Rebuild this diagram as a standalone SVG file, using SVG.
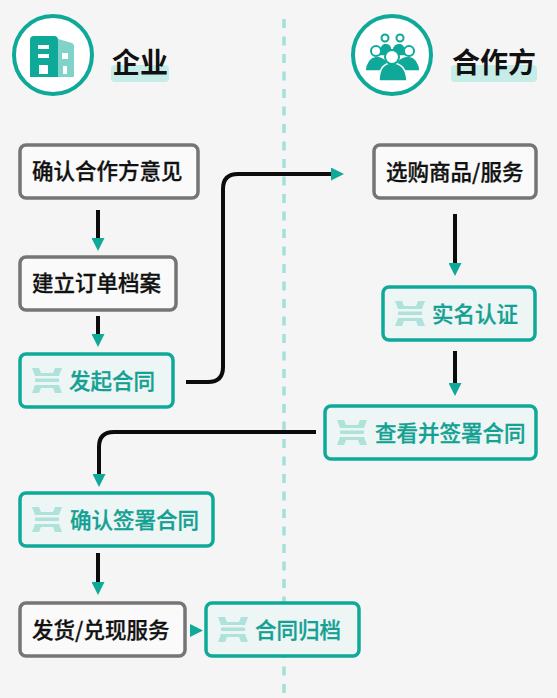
<svg xmlns="http://www.w3.org/2000/svg" width="557" height="698" viewBox="0 0 557 698">
<style>
text{font-family:"Noto Sans CJK SC","Liberation Sans",sans-serif}
.g rect.b{fill:#fafafa;stroke:#757575;stroke-width:3.500}
.t rect.b{fill:#edf6f5;stroke:#0fa999;stroke-width:3.500}
.g text{font-size:21.500px;font-weight:500;fill:#111;stroke:#111;stroke-width:.3}
.t text{font-size:21.500px;font-weight:500;fill:#14a193;stroke:#14a193;stroke-width:.3}
.c path{fill:none;stroke:#0c0c0c;stroke-width:4}
.hd{font-size:28px;font-weight:700;fill:#111}
.hl{fill:#c6ece7}
.ring{fill:#fff;stroke:#0fa999;stroke-width:4}
</style>
<defs>
<marker id="a" markerUnits="userSpaceOnUse" markerWidth="13" markerHeight="13" refX="1" refY="6.500" orient="auto"><path d="M0 0L13 6.500L0 13Z" fill="#0fa999"/></marker>
<g id="sig"><path d="M0 0H7L9 5H21L23 0H30L27 8H3Z M3 10.500H27V14H3Z M3 17H27L30 25H23L21 20H9L7 25H0Z" fill="#aee2da"/></g>
</defs>
<rect width="557" height="698" fill="#f5f5f5"/>
<path d="M284 19V698" stroke="#a5e0d8" stroke-width="3.500" stroke-dasharray="9 8.500" fill="none"/>

<g id="enterprise-header">
<circle class="ring" cx="53" cy="55" r="39"/>
<path d="M30 40Q30 36 34 36H54Q58 36 58 40V77H30Z" fill="#0fa999"/>
<path d="M58 39L72 43Q74 44 74 46V77H58Z" fill="#7fd3c8"/>
<path d="M38 45H49V49H38ZM38 54H49V58H38ZM39 65H48V74H39Z" fill="#fff"/>
<rect x="62" y="53" width="6" height="6" fill="#fff"/><rect x="63" y="66" width="4" height="8" fill="#fff"/>
<rect class="hl" x="111" y="65" width="58" height="17" rx="4"/>
<text class="hd" x="112" y="73">企业</text>
</g>
<g id="partner-header">
<circle class="ring" cx="392" cy="55" r="39"/>
<g fill="#0fa999" stroke="#fff" stroke-width="1.500">
<path d="M378 56Q379 44 385 43Q392 43 392 50Q393 43 400 43Q406 44 407 56Z"/>
<path d="M365 71Q366 58 376 56Q388 56 390 71H365Z"/>
<path d="M394 71Q396 56 409 56Q419 58 420 71Z"/>
<path d="M379 81Q379 63 392 63Q406 63 407 81Z"/>
</g>
<g fill="#fff" stroke="#0fa999" stroke-width="2">
<circle cx="385" cy="38" r="3.500"/><circle cx="400" cy="38" r="3.500"/>
<circle cx="376" cy="51" r="5"/><circle cx="409" cy="51" r="5"/>
<circle cx="392" cy="57" r="7"/>
</g>
<rect class="hl" x="451" y="65" width="86" height="17" rx="4"/>
<text class="hd" x="452" y="73">合作方</text>
</g>

<g class="c" id="connectors">
<path d="M98 210V239" marker-end="url(#a)"/>
<path d="M98 316V335" marker-end="url(#a)"/>
<path d="M186 382H208Q223 382 223 367V189Q223 174 238 174H332" marker-end="url(#a)"/>
<path d="M455 214V264" marker-end="url(#a)"/>
<path d="M455 351V384" marker-end="url(#a)"/>
<path d="M316 432H114Q99 432 99 447V475" marker-end="url(#a)"/>
<path d="M98 553V583" marker-end="url(#a)"/>
</g>
<path d="M190 624L203 630.500L190 637Z" fill="#0fa999"/>

<g id="n1" class="g"><rect class="b" x="20" y="145" width="178" height="53" rx="6"/><text x="32" y="179">确认合作方意见</text></g>
<g id="n2" class="g"><rect class="b" x="20" y="257" width="156" height="53" rx="6"/><text x="32" y="291">建立订单档案</text></g>
<g id="n3" class="t"><rect class="b" x="20" y="354" width="153" height="53" rx="6"/><use href="#sig" x="32" y="368"/><text x="69" y="389">发起合同</text></g>
<g id="n4" class="g"><rect class="b" x="374" y="145" width="162" height="53" rx="6"/><text x="386" y="180">选购商品/服务</text></g>
<g id="n5" class="t"><rect class="b" x="383" y="287" width="152" height="53" rx="6"/><use href="#sig" x="395" y="301"/><text x="432" y="322">实名认证</text></g>
<g id="n6" class="t"><rect class="b" x="325" y="406" width="211" height="53" rx="6"/><use href="#sig" x="337" y="420"/><text x="375" y="441">查看并签署合同</text></g>
<g id="n7" class="t"><rect class="b" x="20" y="493" width="193" height="53" rx="6"/><use href="#sig" x="32" y="507"/><text x="70" y="528">确认签署合同</text></g>
<g id="n8" class="g"><rect class="b" x="20" y="603" width="165" height="53" rx="6"/><text x="32" y="638">发货/兑现服务</text></g>
<g id="n9" class="t"><rect class="b" x="206" y="603" width="153" height="53" rx="6"/><use href="#sig" x="218" y="617"/><text x="255" y="638">合同归档</text></g>
</svg>
